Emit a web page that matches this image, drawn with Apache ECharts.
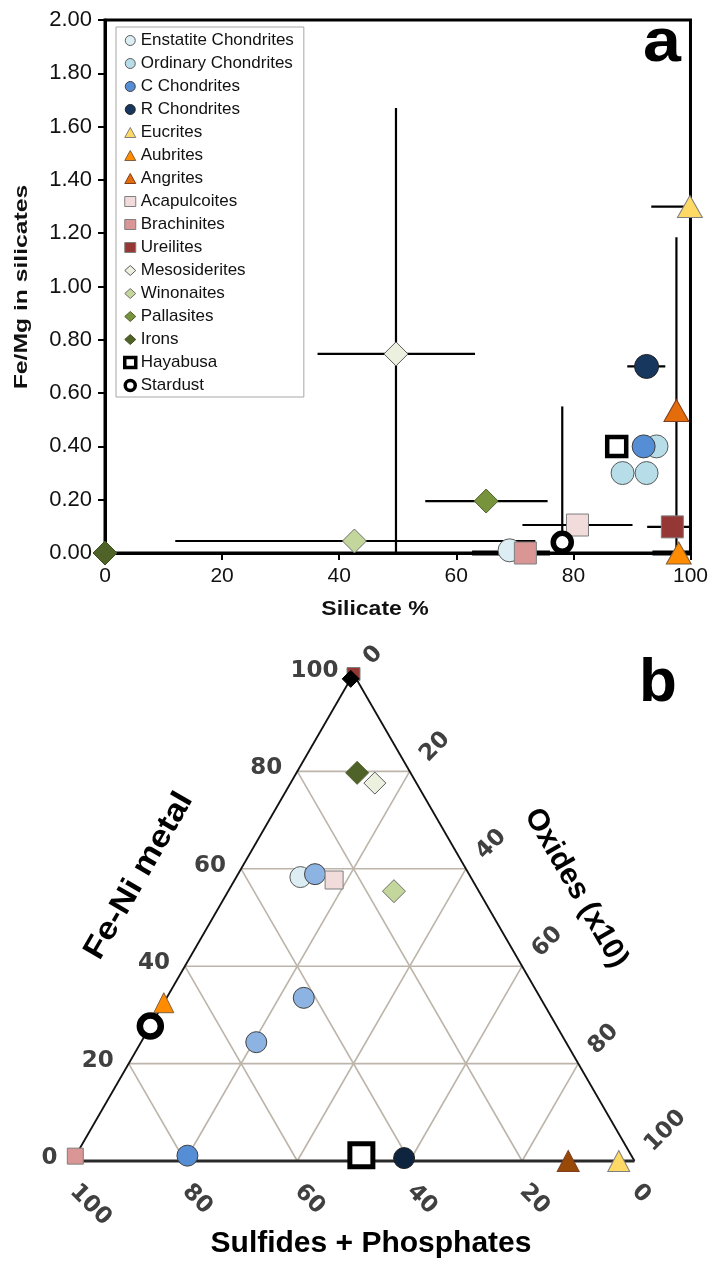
<!DOCTYPE html>
<html>
<head>
<meta charset="utf-8">
<script src="https://cdn.jsdelivr.net/npm/echarts@6/dist/echarts.min.js"></script>
<style>
  html, body { margin: 0; padding: 0; background: #fff; }
  #chart { width: 711px; height: 1267px; }
</style>
</head>
<body>
<div id="chart"></div>
<script>
// ---------- Panel a: Fe/Mg in silicates vs silicate % ----------
const classNames = [
  'Enstatite Chondrites', 'Ordinary Chondrites', 'C Chondrites', 'R Chondrites',
  'Eucrites', 'Aubrites', 'Angrites', 'Acapulcoites', 'Brachinites', 'Ureilites',
  'Mesosiderites', 'Winonaites', 'Pallasites', 'Irons', 'Hayabusa', 'Stardust'
];

// [silicate %, Fe/Mg]
const enstatite     = [[69.1, 0.01]];
const ordinary      = [[94.2, 0.40], [88.4, 0.30], [92.5, 0.30]];
const carbonaceous  = [[92.0, 0.40]];
const rumuruti      = [[92.5, 0.70]];
const eucrites      = [[99.9, 1.30]];
const aubrites      = [[98.0, 0.00]];
const angrites      = [[97.6, 0.535]];
const acapulcoites  = [[80.7, 0.105]];
const brachinites   = [[71.8, 0.00]];
const ureilites     = [[96.9, 0.098]];
const mesosiderites = [[49.7, 0.747]];
const winonaites    = [[42.6, 0.045]];
const pallasites    = [[65.1, 0.195]];
const irons         = [[0.0, 0.00]];
const hayabusa      = [[87.4, 0.40]];
const stardust      = [[78.1, 0.04]];

// horizontal ranges: [Fe/Mg, silicate low, silicate high]
const silicateRanges = [
  [0.045, 12.0, 73.5],   // Winonaites
  [0.747, 36.3, 63.2],   // Mesosiderites
  [0.195, 54.7, 75.6],   // Pallasites
  [0.105, 71.3, 90.1],   // Acapulcoites
  [0.70, 89.2, 95.7],    // R Chondrites
  [1.30, 93.3, 100.0],   // Eucrites
  [0.098, 92.6, 100.0]   // Ureilites
];
// ranges lying on the zero line: [Fe/Mg, low, high]
const silicateRangesOnZero = [
  [0.0, 62.7, 76.0],     // Brachinites
  [0.0, 93.5, 100.0]     // Aubrites
];
// vertical ranges: [silicate %, Fe/Mg low, Fe/Mg high]
const feMgRanges = [
  [49.7, 0.0, 1.67],     // Mesosiderites
  [78.1, 0.0, 0.55],     // Stardust
  [97.6, 0.0, 1.185]     // Angrites
];

// ---------- Panel b: ternary [sulfides+phosphates, oxides(x10), Fe-Ni metal] ----------
const tEnstatite     = [[30.3, 11.4, 58.3]];
const tCarbonaceous  = [[79.0, 19.9, 1.1]];
const tCarbonaceous2 = [[27.4, 13.7, 58.9], [42.1, 24.4, 33.5], [55.1, 20.5, 24.4]];
const tRumuruti      = [[40.7, 58.7, 0.6]];
const tEucrites      = [[2.8, 97.2, 0.0]];
const tAubrites      = [[67.5, 0.0, 32.5]];
const tAngrites      = [[11.8, 88.2, 0.0]];
const tAcapulcoites  = [[24.6, 17.7, 57.7]];
const tBrachinites   = [[99.0, 0.0, 1.0]];
const tUreilites     = [[0.0, 0.0, 100.0]];
const tMesosiderites = [[7.4, 15.0, 77.6]];
const tWinonaites    = [[15.1, 29.5, 55.4]];
const tPallasites    = [[9.5, 10.8, 79.7]];
const tIrons         = [[1.0, 0.0, 99.0]];
const tHayabusa      = [[48.0, 50.8, 1.2]];
const tStardust      = [[72.3, 0.0, 27.7]];

const ternTicks = [0, 20, 40, 60, 80, 100];
const ternGrid = [20, 40, 60, 80];

// ternary composition -> planar coordinates (base position, metal height)
function tern(p) { return [p[1] + p[2] / 2, p[2]]; }

const FONT = '"Liberation Sans", Arial, sans-serif';
const TFONT = '"DejaVu Sans", Verdana, sans-serif';

// ---- marker styles ----
const styles = {
  'Enstatite Chondrites': { symbol: 'circle', a: 23, b: 21, color: '#dcedf3', border: '#5b5b5b', bw: 1 },
  'Ordinary Chondrites':  { symbol: 'circle', a: 23, b: 21, color: '#b7dde8', border: '#5b5b5b', bw: 1 },
  'C Chondrites':         { symbol: 'circle', a: 23, b: 21, color: '#558ed5', border: '#3f3f3f', bw: 1 },
  'R Chondrites':         { symbol: 'circle', a: 24, b: 21, color: '#17375e', border: '#222', bw: 1 },
  'Eucrites':             { symbol: 'triangle', a: [25, 22], b: [22, 21], color: '#ffd966', border: '#7f7f7f', bw: 1 },
  'Aubrites':             { symbol: 'triangle', a: [25, 22], b: [20, 20], color: '#ff8c00', border: '#7f5f3f', bw: 1 },
  'Angrites':             { symbol: 'triangle', a: [25, 22], b: [22, 21], color: '#e46c0a', border: '#7f3f1f', bw: 1 },
  'Acapulcoites':         { symbol: 'rect', a: 22, b: 18, color: '#f2dcdb', border: '#7f7f7f', bw: 1 },
  'Brachinites':          { symbol: 'rect', a: 22, b: 16, color: '#d99694', border: '#7f7f7f', bw: 1 },
  'Ureilites':            { symbol: 'rect', a: 22, b: 13, color: '#953735', border: '#7f7f7f', bw: 1 },
  'Mesosiderites':        { symbol: 'diamond', a: 24, b: 22, color: '#ebf1de', border: '#5b5b5b', bw: 1 },
  'Winonaites':           { symbol: 'diamond', a: 24, b: 23, color: '#c3d69b', border: '#6f6f6f', bw: 1 },
  'Pallasites':           { symbol: 'diamond', a: 24, b: 23, color: '#77933c', border: '#4f5f2f', bw: 1 },
  'Irons':                { symbol: 'diamond', a: 24, b: 17, color: '#4f6228', border: '#3f4f1f', bw: 1 },
  'Hayabusa':             { symbol: 'rect', a: 19, b: 23, color: '#ffffff', border: '#000', bw: 4.5 },
  'Stardust':             { symbol: 'circle', a: 18, b: 21, color: '#ffffff', border: '#000', bw: 5.5 }
};

const panelAData = [
  enstatite, ordinary, carbonaceous, rumuruti, eucrites, aubrites, angrites,
  acapulcoites, brachinites, ureilites, mesosiderites, winonaites, pallasites,
  irons, hayabusa, stardust
];

function lineEl(a, b, w, color) {
  return { type: 'line', shape: { x1: a[0], y1: a[1], x2: b[0], y2: b[1] },
           style: { stroke: color, lineWidth: w } };
}

const series = [];

// range bars (drawn beneath the markers)
series.push({
  type: 'custom', name: 'silicate range', xAxisIndex: 0, yAxisIndex: 0,
  data: silicateRanges, encode: { x: [1, 2], y: 0 }, silent: true, z: 1,
  renderItem: (p, api) => lineEl(api.coord([api.value(1), api.value(0)]),
                                 api.coord([api.value(2), api.value(0)]), 2.2, '#000')
});
series.push({
  type: 'custom', name: 'silicate range zero', xAxisIndex: 0, yAxisIndex: 0,
  data: silicateRangesOnZero, encode: { x: [1, 2], y: 0 }, silent: true, z: 1,
  renderItem: (p, api) => lineEl(api.coord([api.value(1), api.value(0)]),
                                 api.coord([api.value(2), api.value(0)]), 5, '#000')
});
series.push({
  type: 'custom', name: 'fe/mg range', xAxisIndex: 0, yAxisIndex: 0,
  data: feMgRanges, encode: { x: 0, y: [1, 2] }, silent: true, z: 1,
  renderItem: (p, api) => lineEl(api.coord([api.value(0), api.value(1)]),
                                 api.coord([api.value(0), api.value(2)]), 2.2, '#000')
});

classNames.forEach((name, i) => {
  const s = styles[name];
  series.push({
    type: 'scatter', name, xAxisIndex: 0, yAxisIndex: 0,
    data: panelAData[i], symbol: s.symbol, symbolSize: s.a, clip: false, z: 3,
    itemStyle: { color: s.color, borderColor: s.border, borderWidth: s.bw, opacity: 1 }
  });
});

// ---- ternary frame and grid ----
const gridSegs = [];
ternGrid.forEach(c => {
  gridSegs.push([...tern([100 - c, 0, c]), ...tern([0, 100 - c, c])]);   // metal = c
  gridSegs.push([...tern([100 - c, c, 0]), ...tern([0, c, 100 - c])]);   // oxides = c
  gridSegs.push([...tern([c, 100 - c, 0]), ...tern([c, 0, 100 - c])]);   // sulfides = c
});
const edgeSegs = [
  [...tern([100, 0, 0]), ...tern([0, 0, 100])],
  [...tern([0, 100, 0]), ...tern([0, 0, 100])]
];
const baseSeg = [[...tern([100, 0, 0]), ...tern([0, 100, 0])]];

function segSeries(data, w, color, z) {
  return {
    type: 'custom', xAxisIndex: 1, yAxisIndex: 1, data, encode: { x: [0, 2], y: [1, 3] },
    silent: true, z,
    renderItem: (p, api) => lineEl(api.coord([api.value(0), api.value(1)]),
                                   api.coord([api.value(2), api.value(3)]), w, color)
  };
}
series.push(segSeries(gridSegs, 1.6, '#bdb4aa', 1));
series.push(segSeries(edgeSegs, 1.8, '#111', 2));
series.push(segSeries(baseSeg, 2.8, '#2a2a2a', 2));

// ---- ternary tick labels ----
function labelSeries(points, texts, dx, dy, rotDeg, align) {
  return {
    type: 'custom', xAxisIndex: 1, yAxisIndex: 1, data: points, encode: { x: 0, y: 1 },
    silent: true, z: 4,
    renderItem: (p, api) => {
      const c = api.coord([api.value(0), api.value(1)]);
      return {
        type: 'text', x: c[0] + dx, y: c[1] + dy, rotation: rotDeg * Math.PI / 180,
        style: { text: texts[p.dataIndex], fill: '#404040', font: 'bold 23px ' + TFONT,
                 align, verticalAlign: 'middle' }
      };
    }
  };
}
const tickText = ternTicks.map(String);
series.push(labelSeries(ternTicks.map(t => tern([100 - t, 0, t])), tickText, -15, -3, 0, 'right'));
series.push(labelSeries(ternTicks.map(t => tern([0, t, 100 - t])), tickText, 14, -13, 45, 'left'));
series.push(labelSeries(ternTicks.map(t => tern([t, 100 - t, 0])), tickText, 1, 27, -45, 'left'));

// ---- ternary points ----
const panelBData = [
  ['Enstatite Chondrites', tEnstatite, null],
  ['C Chondrites', tCarbonaceous, null],
  ['C Chondrites', tCarbonaceous2, '#8db3e2'],
  ['R Chondrites', tRumuruti, '#0f243e'],
  ['Eucrites', tEucrites, null],
  ['Aubrites', tAubrites, null],
  ['Angrites', tAngrites, '#984807'],
  ['Acapulcoites', tAcapulcoites, null],
  ['Brachinites', tBrachinites, null],
  ['Ureilites', tUreilites, null],
  ['Mesosiderites', tMesosiderites, null],
  ['Winonaites', tWinonaites, null],
  ['Pallasites', tPallasites, '#4f6228'],
  ['Irons', tIrons, '#000000'],
  ['Hayabusa', tHayabusa, null],
  ['Stardust', tStardust, null]
];
panelBData.forEach(([name, pts, col]) => {
  const s = styles[name];
  series.push({
    type: 'scatter', name, xAxisIndex: 1, yAxisIndex: 1,
    data: pts.map(tern), symbol: s.symbol, symbolSize: s.b, clip: false, z: 5,
    itemStyle: { color: col || s.color, borderColor: col === '#000000' ? '#000' : s.border,
                 borderWidth: name === 'Hayabusa' ? 5 : (name === 'Stardust' ? 6.5 : s.bw), opacity: 1 }
  });
});

const legendData = classNames.map(n => {
  const item = { name: n };
  if (n === 'Hayabusa' || n === 'Stardust') {
    item.itemStyle = { borderWidth: 3.5, borderColor: '#000', color: '#fff' };
  } else {
    item.itemStyle = { borderWidth: 1, borderColor: styles[n].border };
  }
  return item;
});

const option = {
  animation: false,
  backgroundColor: '#ffffff',
  legend: {
    data: legendData, orient: 'vertical', left: 116, top: 27,
    itemWidth: 11, itemHeight: 10, itemGap: 6, padding: [5, 10, 3, 7],
    borderColor: '#a6a6a6', borderWidth: 1, selectedMode: false,
    textStyle: { fontFamily: FONT, fontSize: 17, color: '#111' }
  },
  grid: [
    { left: 105, top: 20, width: 586, height: 533, show: true,
      borderColor: '#000', borderWidth: 3, backgroundColor: 'transparent' },
    { left: 72.5, top: 674, width: 562, height: 487, show: false }
  ],
  xAxis: [
    { gridIndex: 0, type: 'value', min: 0, max: 100, interval: 20,
      axisLine: { lineStyle: { color: '#000', width: 3 } },
      axisTick: { show: true, inside: false, length: 7, lineStyle: { color: '#000', width: 2 } },
      axisLabel: { fontFamily: FONT, fontSize: 21, color: '#111', margin: 13 },
      splitLine: { show: false } },
    { gridIndex: 1, type: 'value', min: 0, max: 100, show: false }
  ],
  yAxis: [
    { gridIndex: 0, type: 'value', min: 0, max: 2, interval: 0.2,
      axisLine: { show: true, lineStyle: { color: '#000', width: 3 } },
      axisTick: { show: true, inside: false, length: 7, lineStyle: { color: '#000', width: 2 } },
      axisLabel: { fontFamily: FONT, fontSize: 22, color: '#111', margin: 13,
                   formatter: v => v.toFixed(2) },
      splitLine: { show: false } },
    { gridIndex: 1, type: 'value', min: 0, max: 100, show: false }
  ],
  graphic: [
    { type: 'text', x: 22, y: 287, rotation: Math.PI / 2, scaleX: 1.3,
      style: { text: 'Fe/Mg in silicates', font: 'bold 19px ' + FONT, fill: '#111',
               align: 'center', verticalAlign: 'middle' } },
    { type: 'text', x: 375, y: 609, scaleX: 1.15,
      style: { text: 'Silicate %', font: 'bold 20px ' + FONT, fill: '#111',
               align: 'center', verticalAlign: 'middle' } },
    { type: 'text', x: 662, y: 44, scaleX: 1.1, style: { text: 'a', font: 'bold 62px ' + FONT, fill: '#000',
      align: 'center', verticalAlign: 'middle' } },
    { type: 'text', x: 658, y: 684, style: { text: 'b', font: 'bold 62px ' + FONT, fill: '#000',
      align: 'center', verticalAlign: 'middle' } },
    { type: 'text', x: 139, y: 876, rotation: Math.PI / 3, scaleX: 1.12,
      style: { text: 'Fe-Ni metal', font: 'bold 31px ' + FONT, fill: '#000',
               align: 'center', verticalAlign: 'middle' } },
    { type: 'text', x: 576, y: 888, rotation: -Math.PI / 3,
      style: { text: 'Oxides (x10)', font: 'bold 30px ' + FONT, fill: '#000',
               align: 'center', verticalAlign: 'middle' } },
    { type: 'text', x: 371, y: 1244,
      style: { text: 'Sulfides + Phosphates', font: 'bold 30px ' + FONT, fill: '#000',
               align: 'center', verticalAlign: 'middle' } }
  ],
  series
};

const chart = echarts.init(document.getElementById('chart'));
chart.setOption(option);
</script>
</body>
</html>
